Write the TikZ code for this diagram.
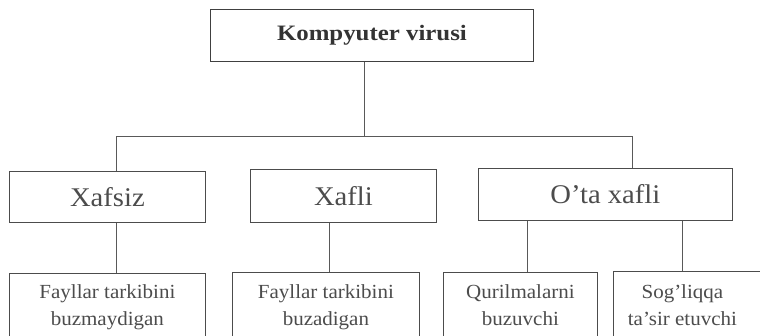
\documentclass[tikz,border=0pt]{standalone}
\usepackage{fontspec}
\setmainfont{Liberation Serif}
\newfontfamily\rootfont{Liberation Serif}[FakeStretch=1.13]
\newfontfamily\kindfont{Liberation Serif}[FakeStretch=1.06]
\newfontfamily\leaffont{Liberation Serif}[FakeStretch=1.05]

\begin{document}
\begin{tikzpicture}[x=1pt, y=1pt,
	rootbox/.style={draw=black!75, line width=0.9pt, anchor=north west, inner sep=0pt, minimum width=323pt, minimum height=52pt, text=black!80, font=\rootfont\bfseries\fontsize{22}{26}\selectfont},
	kindbox/.style={draw=black!70, line width=0.8pt, anchor=north west, inner sep=0pt, text=black!70, font=\kindfont\fontsize{27}{32}\selectfont},
	leafbox/.style={draw=black!70, line width=0.8pt, anchor=north west, inner sep=0pt, minimum height=90pt},
	leaftext/.style={anchor=north, inner sep=0pt, align=center, text=black!70, font=\leaffont\fontsize{20}{27}\selectfont},
	link/.style={draw=black!65, line width=0.8pt}]
			%%%%% START %%%%%
			
			\useasboundingbox (0,0) rectangle (760,-335);
			\clip (0,0) rectangle (760,-335);
			
			\node[rootbox] (virus) at (210,-9) {Kompyuter virusi};
			
			\node[kindbox, minimum width=196pt, minimum height=51pt] (xafsiz) at (9,-171) {Xafsiz};
			\node[kindbox, minimum width=186pt, minimum height=53pt] (xafli) at (250,-169) {Xafli};
			\node[kindbox, minimum width=254pt, minimum height=52pt] (ota) at (478,-168) {O’ta xafli};
			
			\node[leafbox, minimum width=196pt] (leaf1) at (9,-273) {};
			\node[leafbox, minimum width=187pt] (leaf2) at (232,-272) {};
			\node[leafbox, minimum width=154pt] (leaf3) at (443,-272) {};
			\node[leafbox, minimum width=170pt] (leaf4) at (613,-271) {};
			
			\node[leaftext] (leaf1t) at ([yshift=-11.5]leaf1.north) {Fayllar tarkibini\\buzmaydigan};
			\node[leaftext] (leaf2t) at ([yshift=-12.5]leaf2.north) {Fayllar tarkibini\\buzadigan};
			\node[leaftext] (leaf3t) at ([yshift=-12.5]leaf3.north) {Qurilmalarni\\buzuvchi};
			\node[leaftext] (leaf4t) at ([xshift=-16, yshift=-13.5]leaf4.north) {Sog’liqqa\\ta’sir etuvchi};
			
			\coordinate (busl) at (116,-136);
			\coordinate (busr) at (632,-136);
			
			\draw[link] ([xshift=-7.5]virus.south) -- ([xshift=-7.5]virus.south |- busl);
			\draw[link] (xafsiz.north -| busl) -- (busl) -- (busr) -- (ota.north -| busr);
			
			\draw[link] ([xshift=9]xafsiz.south) -- ([xshift=9]xafsiz.south |- leaf1.north);
			\draw[link] ([xshift=-14]xafli.south) -- ([xshift=-14]xafli.south |- leaf2.north);
			\draw[link] ([xshift=-78]ota.south) -- ([xshift=-78]ota.south |- leaf3.north);
			\draw[link] ([xshift=77]ota.south) -- ([xshift=77]ota.south |- leaf4.north);
			
			%%%%% END %%%%%
\end{tikzpicture}
\end{document}
